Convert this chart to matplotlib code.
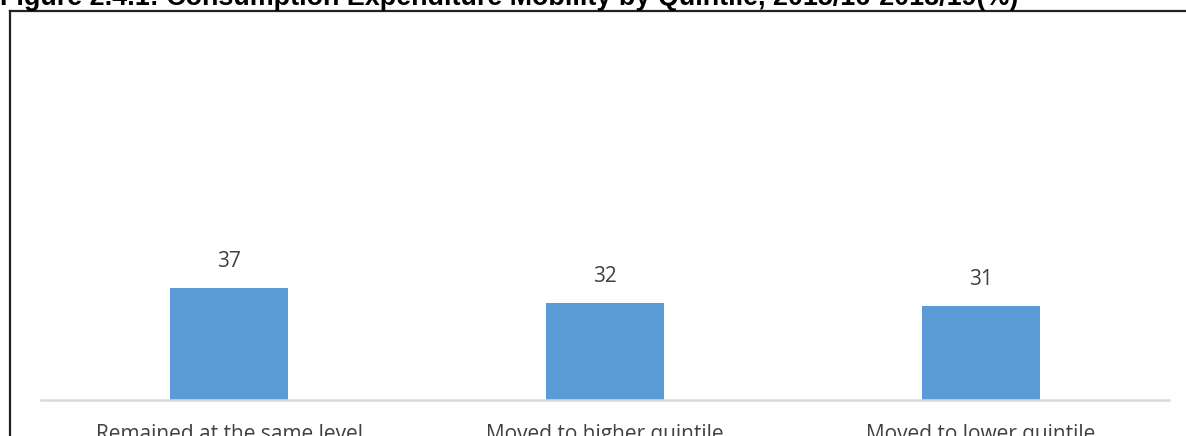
import matplotlib.pyplot as plt
from matplotlib.lines import Line2D

categories = ["Remained at the same level", "Moved to higher quintile", "Moved to lower quintile"]
shares = [37, 32, 31]

W, H = 1186, 436
fig = plt.figure(figsize=(W / 100, H / 100), dpi=100)

# plot area in pixel terms: x 41..1169, baseline at y=400
x0, x1 = 41, 1169
y_base = 400
px_per_unit = 3.03
y_top = 40
ax = fig.add_axes([x0 / W, 1 - y_base / H, (x1 - x0) / W, (y_base - y_top) / H])

pos = range(len(categories))
ax.bar(pos, shares, width=0.312, color="#5b9bd5")
for p, v in zip(pos, shares):
    ax.text(p, v + 5.3, str(v), ha="center", va="bottom", fontsize=15,
            family="Open Sans", color="#404040")

ax.set_xlim(-0.5, len(categories) - 0.5)
ax.set_ylim(0, (y_base - y_top) / px_per_unit)
ax.set_xticks(list(pos))
ax.set_xticklabels(categories, fontsize=15, family="Open Sans", color="#404040")
ax.tick_params(axis="x", length=0, pad=17)
ax.set_yticks([])
for s in ["top", "left", "right"]:
    ax.spines[s].set_visible(False)
ax.spines["bottom"].set_color("#d9d9d9")
ax.spines["bottom"].set_linewidth(1.8)

# outer frame around the chart (left and top edges)
fig.add_artist(Line2D([10 / W, 10 / W], [0, 1 - 11 / H], color="#222222", lw=1.6))
fig.add_artist(Line2D([10 / W, 1], [1 - 11 / H, 1 - 11 / H], color="#222222", lw=1.6))

fig.text(0, 1 - 5 / H, "Figure 2.4.1: Consumption Expenditure Mobility by Quintile, 2015/16-2018/19(%)",
         ha="left", va="baseline", fontsize=19.4, fontweight="bold", family="Liberation Sans")

fig.savefig("out.png", dpi=100)
